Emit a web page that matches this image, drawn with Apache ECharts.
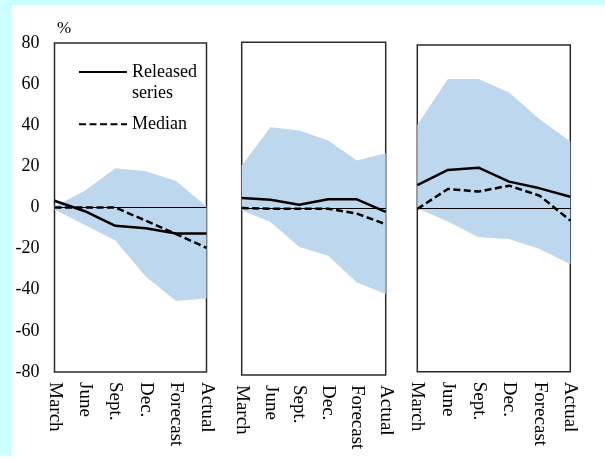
<!DOCTYPE html>
<html>
<head>
<meta charset="utf-8">
<script src="https://cdn.jsdelivr.net/npm/echarts@6/dist/echarts.min.js"></script>
<style>
  html, body { margin: 0; padding: 0; background: #fff; }
  #chart { width: 605px; height: 459px; }
</style>
</head>
<body>
<div id="chart"></div>
<script>
// Quarterly vintages and outcome shown along each panel
const categories = ['March', 'June', 'Sept.', 'Dec.', 'Forecast', 'Actual'];

// Y scale shared by all three panels (percent)
const yMin = -80;
const yMax = 80;
const yStep = 20;

// Panel 1
const p1Released = [3.3, -1.8, -8.9, -10.1, -12.6, -12.6];
const p1Median   = [0, 0, 0, -6.4, -12.9, -19.6];
const p1Upper    = [0.5, 8.2, 19.1, 17.6, 12.9, 0.5];
const p1Lower    = [-1, -8.5, -16, -33.6, -45.5, -44.2];

// Panel 2
const p2Released = [5.1, 4.3, 1.9, 4.5, 4.5, -1.6];
const p2Median   = [0.3, 0, 0, 0, -2.4, -7.5];
const p2Upper    = [20.8, 39.2, 37.6, 32.8, 23.2, 26.7];
const p2Lower    = [-0.8, -6.4, -18.4, -22.7, -35.5, -41.1];

// Panel 3
const p3Released = [11.4, 18.8, 19.9, 13.1, 9.8, 5.7];
const p3Median   = [-0.3, 9.5, 8.2, 11.1, 6.2, -6.0];
const p3Upper    = [40.8, 63.3, 63.3, 56.7, 43.6, 32.7];
const p3Lower    = [0, -6.5, -14.2, -15.0, -19.9, -27.4];

const panels = [
  { released: p1Released, median: p1Median, upper: p1Upper, lower: p1Lower },
  { released: p2Released, median: p2Median, upper: p2Upper, lower: p2Lower },
  { released: p3Released, median: p3Median, upper: p3Upper, lower: p3Lower }
];

const FONT = 'Liberation Serif';
const BAND = '#bdd7ee';

const grids = [
  { left: 54.5, top: 43, width: 152, height: 329 },
  { left: 241.7, top: 42.3, width: 144, height: 332.7 },
  { left: 417.3, top: 45, width: 153, height: 326.7 }
].map(g => Object.assign({
  show: true, borderColor: '#2b2b2b', borderWidth: 1.5, backgroundColor: 'transparent'
}, g));

const xAxes = grids.map((g, i) => ({
  type: 'category', gridIndex: i, data: categories, boundaryGap: false,
  axisLine: { show: false }, axisTick: { show: false }, splitLine: { show: false },
  axisLabel: { rotate: -90, interval: 0, margin: 10, color: '#000', fontFamily: FONT, fontSize: 19 }
}));

const yAxes = grids.map((g, i) => ({
  type: 'value', gridIndex: i, min: yMin, max: yMax, interval: yStep,
  axisLine: { show: false }, axisTick: { show: false }, splitLine: { show: false },
  axisLabel: { show: i === 0, margin: 15, color: '#000', fontFamily: FONT, fontSize: 18 }
}));

const series = [];
panels.forEach((p, i) => {
  const stackId = 'band' + i;
  series.push({
    type: 'line', xAxisIndex: i, yAxisIndex: i, stack: stackId, stackStrategy: 'all',
    data: p.lower, symbol: 'none', silent: true, lineStyle: { opacity: 0 }, z: 1
  });
  series.push({
    type: 'line', xAxisIndex: i, yAxisIndex: i, stack: stackId, stackStrategy: 'all',
    data: p.upper.map((u, k) => u - p.lower[k]), symbol: 'none', silent: true,
    lineStyle: { opacity: 0 }, areaStyle: { color: BAND, opacity: 1 }, z: 1
  });
  series.push({
    name: 'Released series', type: 'line', xAxisIndex: i, yAxisIndex: i,
    data: p.released, symbol: 'none', lineStyle: { color: '#000', width: 2.5 },
    itemStyle: { color: '#000' }, z: 4
  });
  series.push({
    name: 'Median', type: 'line', xAxisIndex: i, yAxisIndex: i,
    data: p.median, symbol: 'none',
    lineStyle: { color: '#000', width: 2.5, type: [7, 3.5] },
    itemStyle: { color: '#000' }, z: 3,
    markLine: {
      silent: true, symbol: 'none', label: { show: false },
      lineStyle: { color: '#000', width: 1, type: 'solid' },
      data: [{ yAxis: 0 }]
    }
  });
});

const chart = echarts.init(document.getElementById('chart'), null, { renderer: 'canvas' });
chart.setOption({
  animation: false,
  backgroundColor: '#fff',
  textStyle: { fontFamily: FONT },
  title: {
    text: '%', left: 52, top: 15,
    textStyle: { fontFamily: FONT, fontSize: 17, fontWeight: 'normal', color: '#000' }
  },
  graphic: [
    { type: 'rect', left: 0, top: 0, shape: { width: 605, height: 5 }, style: { fill: '#ccffff' }, silent: true },
    { type: 'rect', left: 0, top: 0, shape: { width: 12, height: 456 }, style: { fill: '#ccffff' }, silent: true }
  ],
  legend: {
    orient: 'vertical', left: 73, top: 35.5, itemWidth: 48, itemHeight: 14, itemGap: 10.3,
    selectedMode: false,
    itemStyle: { opacity: 0 },
    data: ['Released series', 'Median'],
    // blank first line keeps "Released" level with its line sample
    formatter: name => name === 'Released series' ? '\nReleased\nseries' : name,
    textStyle: { fontFamily: FONT, fontSize: 18, color: '#000', lineHeight: 21 }
  },
  grid: grids,
  xAxis: xAxes,
  yAxis: yAxes,
  series: series
});
</script>
</body>
</html>
